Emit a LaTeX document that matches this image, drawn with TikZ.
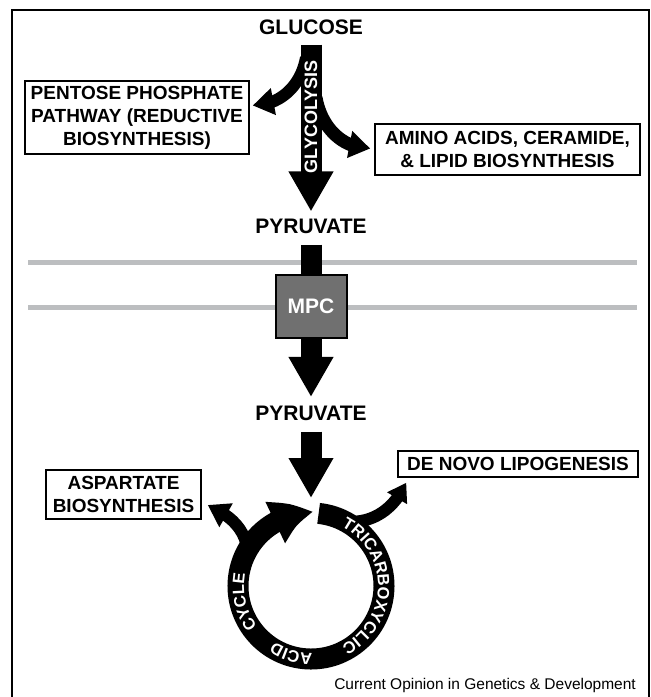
\documentclass[tikz,border=0pt]{standalone}
\usepackage{fontspec}
\setmainfont{Liberation Sans}
\usetikzlibrary{arrows.meta,bending,decorations.text}

\definecolor{memgray}{HTML}{BCBEC0}
\definecolor{mpcgray}{HTML}{707070}
\newcommand{\bigfont}{\fontsize{21}{21}\selectfont\bfseries}
\newcommand{\boxfont}{\fontsize{19}{23}\selectfont\bfseries}
\newcommand{\glyfont}{\fontsize{18}{18}\selectfont\bfseries}
\newcommand{\ringfont}{\fontsize{16.5}{16.5}\selectfont\bfseries}

\tikzset{
  title/.style={font=\bigfont, inner sep=0pt},
  labelbox/.style={draw=black, line width=1.5pt, align=center, font=\boxfont, inner sep=0pt},
  shaft/.style={line width=21pt},
  fatarrow/.style={line width=21pt, -{Triangle[length=40pt,width=42pt]}},
  branch/.style={line width=12pt, -{Triangle[length=21pt,width=26pt]}},
  membrane/.style={line width=5pt, draw=memgray},
  ringtext/.style={decorate, decoration={text along path, text align=center, text color=white}},
}

\begin{document}
\begin{tikzpicture}[x=1pt,y=1pt]

  \useasboundingbox (0,0) rectangle (651,-697);
  \draw [line width=1.5pt] (12,-700) -- (12,-10) -- (649,-10) -- (649,-700);

  \foreach \y in {262,307}
  {
    \draw [membrane] (28,-\y) -- (637,-\y);
  }

  \node (glucose) at (311,-27) [title] {GLUCOSE};
  \node (pyr1) at (311,-226.5) [title] {PYRUVATE};
  \node (pyr2) at (311,-413) [title] {PYRUVATE};

  \node (ppp) at (137,-117.5) [labelbox, minimum width=224pt, minimum height=73pt] {PENTOSE PHOSPHATE\\PATHWAY (REDUCTIVE\\BIOSYNTHESIS)};
  \node (amino) at (507.5,-149.5) [labelbox, minimum width=265pt, minimum height=51pt] {AMINO ACIDS, CERAMIDE,\\\& LIPID BIOSYNTHESIS};
  \node (asp) at (123.5,-494.5) [labelbox, minimum width=155pt, minimum height=49pt] {ASPARTATE\\BIOSYNTHESIS};
  \node (dnl) at (518,-464) [labelbox, minimum width=240pt, minimum height=26pt] {DE NOVO LIPOGENESIS};

  \draw [fatarrow, shorten <=10pt, shorten >=7.5pt] (glucose) -- (pyr1);
  \draw [branch] ([shift={(-5,-23)}]glucose.south) to [out=-100,in=0] ([shift={(3,12)}]ppp.east);
  \draw [branch, line width=13pt] ([shift={(5,-63)}]glucose.south) to [out=-80,in=180] ([shift={(-4,1)}]amino.west);
  \node (glyco) at (311,-117) [rotate=90, text=white, font=\glyfont, inner sep=0pt] {GLYCOLYSIS};

  \node (mpc) at (311,-306.5) [draw=black, line width=2pt, fill=mpcgray, minimum width=71pt, minimum height=63pt, text=white, font=\bigfont] {MPC};
  \draw [shaft, shorten <=10.5pt] (pyr1) -- (mpc);
  \draw [fatarrow, shorten >=8.5pt] (mpc) -- (pyr2);

  \coordinate (tca) at (311,-586);
  \coordinate (cyclein) at (311,-498);
  \draw [fatarrow, shorten <=11pt] (pyr2) -- (cyclein);

  \draw [line width=21pt, -{Triangle[length=41pt,width=42pt,bend]}] ([shift={(84:73)}]tca) arc [start angle=84, end angle=-272, radius=73];
  \draw [branch] ([shift={(150:73)}]tca) to [out=100,in=-25] ([shift={(6,-10.5)}]asp.east);
  \draw [branch, -{Triangle[length=18pt,width=22pt]}] ([shift={(62:73)}]tca) to [out=-5,in=-115] ([shift={(9,-5)}]dnl.south west);

  \path [ringtext, decoration={text={|\ringfont|TRICARBOXYCLIC}}] ([shift={(72:67)}]tca) arc [start angle=72, end angle=-72, radius=67];
  \path [ringtext, decoration={text={|\ringfont|ACID}}] ([shift={(-76:67)}]tca) arc [start angle=-76, end angle=-136, radius=67];
  \path [ringtext, decoration={text={|\ringfont|CYCLE}}] ([shift={(-137:67)}]tca) arc [start angle=-137, end angle=-197, radius=67];

  \node (credit) at (636,-685) [anchor=east, inner sep=0pt, font=\fontsize{15.5}{15.5}\selectfont] {Current Opinion in Genetics \& Development};

\end{tikzpicture}
\end{document}
